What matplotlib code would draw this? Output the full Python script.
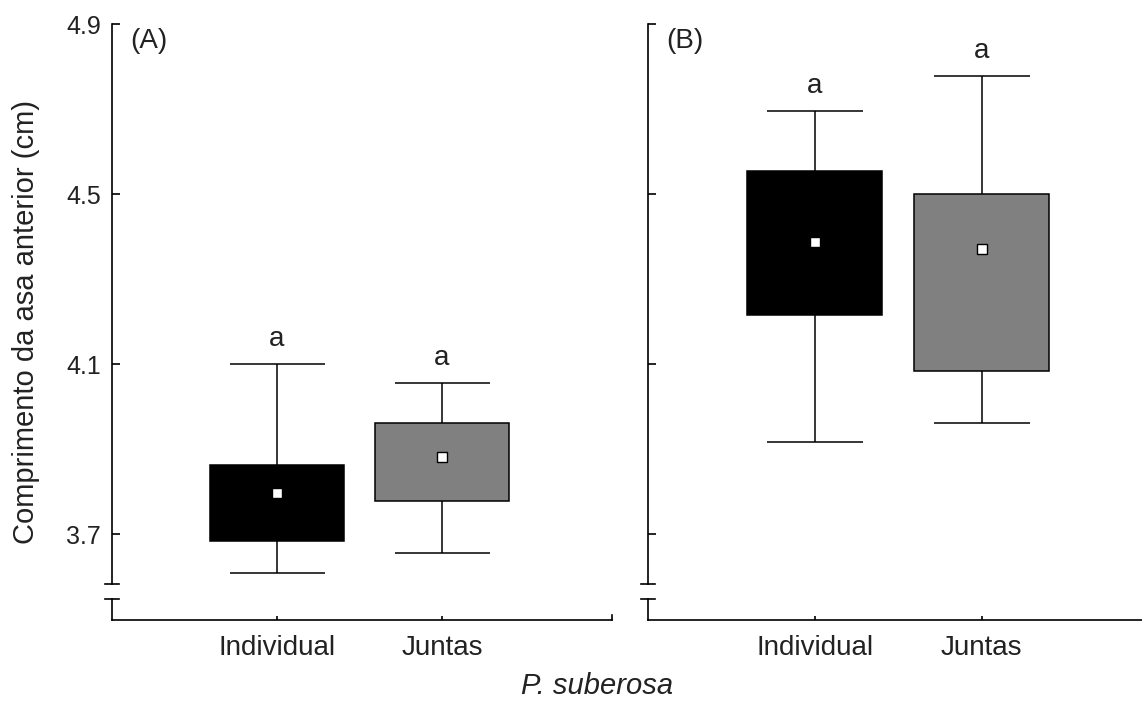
import matplotlib.pyplot as plt
import matplotlib.transforms as mtransforms

plt.rcParams['font.family'] = ['Liberation Sans', 'DejaVu Sans']

# Wing length summary per group: whisker low/high, box low/high, mean
groups = ['Individual', 'Juntas']
panels = ['(A)', '(B)']
whisk_lo = [[3.608, 3.655], [3.916, 3.961]]
whisk_hi = [[4.100, 4.055], [4.695, 4.778]]
box_lo = [[3.684, 3.778], [4.215, 4.084]]
box_hi = [[3.862, 3.961], [4.554, 4.500]]
means = [[3.797, 3.881], [4.387, 4.371]]
letters = [['a', 'a'], ['a', 'a']]
box_colors = ['black', '#808080']
yticks = [3.7, 4.1, 4.5, 4.9]

ymin, ymax = 3.498, 4.9
break_hi, break_lo = 3.582, 3.547
text_color = '#222222'

fig = plt.figure(figsize=(11.42, 7.02), dpi=100)
ax_a = fig.add_axes([0.0981, 0.1168, 0.4378, 0.849])
ax_b = fig.add_axes([0.5674, 0.1168, 0.4326, 0.849])
xlims = [(0, 3.03), (0, 2.96)]

for i, ax in enumerate([ax_a, ax_b]):
    pos = [1, 2]
    for j in range(2):
        x = pos[j]
        ax.vlines(x, whisk_lo[i][j], whisk_hi[i][j], color='black', lw=1.1, zorder=1)
        ax.hlines([whisk_lo[i][j], whisk_hi[i][j]], x - 0.288, x + 0.288,
                  color='black', lw=1.1, zorder=1)
        ax.bar(x, box_hi[i][j] - box_lo[i][j], bottom=box_lo[i][j], width=0.81,
               color=box_colors[j], edgecolor='black', lw=1.1, zorder=2)
        ax.plot(x, means[i][j], marker='s', ms=7, mfc='white', mec='black',
                mew=1.0, zorder=3)
        ax.text(x, whisk_hi[i][j] + 0.042, letters[i][j], ha='center', va='baseline',
                fontsize=20, color=text_color)

    ax.set_xlim(*xlims[i])
    ax.set_ylim(ymin, ymax)
    ax.set_xticks(pos)
    ax.set_xticklabels(groups, fontsize=20, color=text_color)
    ax.set_yticks(yticks)
    if i == 0:
        ax.set_yticklabels([f'{t:.1f}' for t in yticks], fontsize=18, color=text_color)
    else:
        ax.set_yticklabels([])
    ax.tick_params(axis='y', direction='in', length=6, width=1.2, pad=8)
    ax.tick_params(axis='x', direction='in', length=3, width=1.2, pad=11)

    for side in ['top', 'right']:
        ax.spines[side].set_visible(False)
    ax.spines['bottom'].set_linewidth(1.2)
    ax.spines['left'].set_linewidth(1.2)
    ax.spines['left'].set_bounds(break_hi, ymax)

    # broken y axis: lower stub and the two caps
    trans = mtransforms.blended_transform_factory(ax.transAxes, ax.transData)
    cap = 0.014
    ax.plot([0, 0], [ymin, break_lo], color='black', lw=1.2, transform=trans, clip_on=False)
    ax.plot([-cap, cap], [break_hi, break_hi], color='black', lw=1.2,
            transform=trans, clip_on=False)
    ax.plot([-cap, cap], [break_lo, break_lo], color='black', lw=1.2,
            transform=trans, clip_on=False)

    ax.text(0.036, 0.993, panels[i], transform=ax.transAxes, ha='left', va='top',
            fontsize=20, color=text_color)

# small end tick on the first panel's x axis
ax_a.plot([1, 1], [0, 0.008], color='black', lw=1.2, transform=ax_a.transAxes,
          clip_on=False)

ax_a.set_ylabel('Comprimento da asa anterior (cm)', fontsize=21, color=text_color,
                labelpad=19)
fig.text(0.523, 0.011, 'P. suberosa', style='italic', ha='center', va='baseline',
         fontsize=21, color=text_color)

fig.savefig('out.png', dpi=100)
